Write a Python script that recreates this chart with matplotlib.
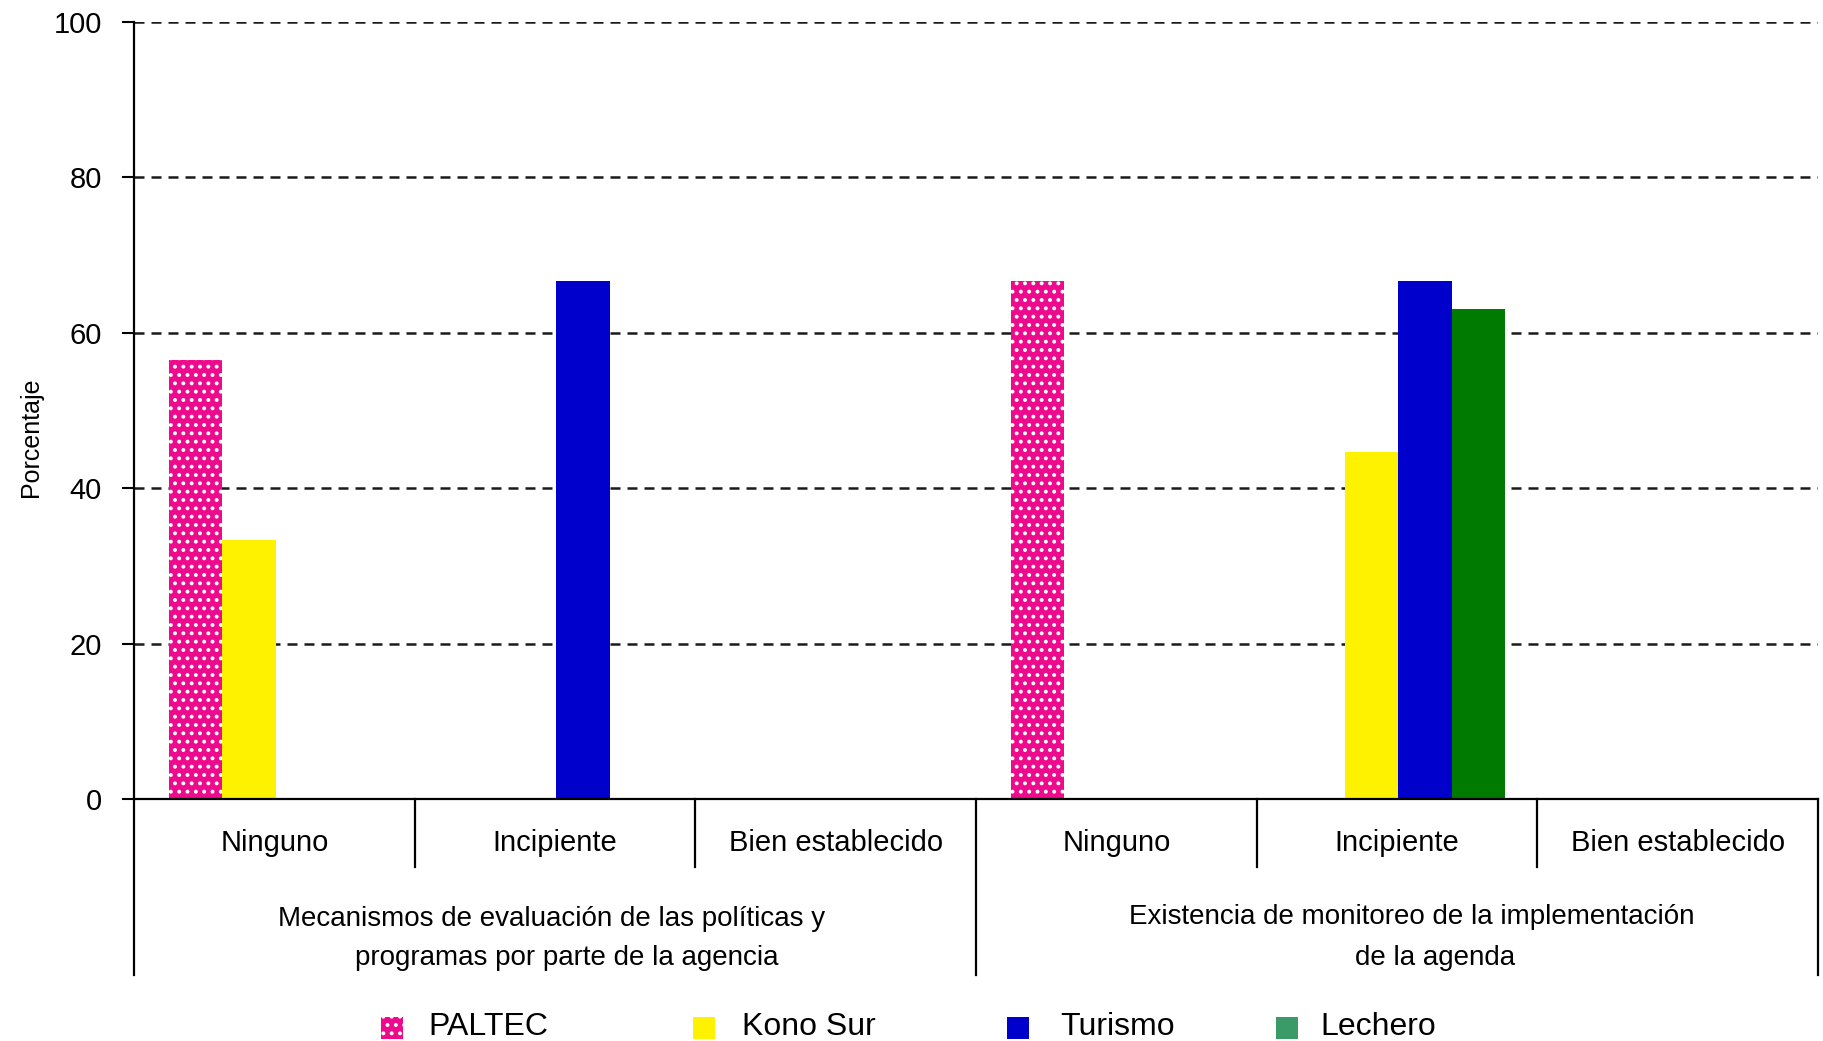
import matplotlib
matplotlib.use('Agg')
import numpy as np
import matplotlib.pyplot as plt
from matplotlib.patches import Rectangle

plt.rcParams['font.family'] = ['Liberation Sans', 'DejaVu Sans']
plt.rcParams['hatch.linewidth'] = 1.6

# Data (percent)
CATEGORIES = ['Ninguno', 'Incipiente', 'Bien establecido',
              'Ninguno', 'Incipiente', 'Bien establecido']
GROUP_1 = ['Mecanismos de evaluación de las políticas y',
           'programas por parte de la agencia']
GROUP_2 = ['Existencia de monitoreo de la implementación',
           'de la agenda']
SERIES = ['PALTEC', 'Kono Sur', 'Turismo', 'Lechero']
paltec = [56.5, 0, 0, 66.7, 0, 0]
kono_sur = [33.3, 0, 0, 0, 44.6, 0]
turismo = [0, 66.7, 0, 0, 66.7, 0]
lechero = [0, 0, 0, 0, 63.0, 0]

# styling
PINK = '#EE0A8C'
YELLOW = '#FFF200'
BLUE = '#0000CC'
GREEN = '#007A00'
LEG_GREEN = '#3A9A68'
BAR_W = 0.19

fig = plt.figure(figsize=(18.24, 10.41), dpi=100)
ax = fig.add_axes([0.0735, 0.2325, 0.9232, 0.7464])

x = np.arange(len(CATEGORIES))
series_vals = [paltec, kono_sur, turismo, lechero]
bar_styles = [
    dict(color=PINK, edgecolor='white', hatch='..', linewidth=0),
    dict(color=YELLOW, linewidth=0),
    dict(color=BLUE, linewidth=0),
    dict(color=GREEN, linewidth=0),
]
for i, (vals, st) in enumerate(zip(series_vals, bar_styles)):
    offset = (i - 1.5) * BAR_W + 0.005
    ax.bar(x + offset, vals, width=BAR_W, zorder=2, **st)

ax.set_xlim(-0.5, 5.5)
ax.set_ylim(0, 100)
ax.set_yticks(np.arange(0, 101, 20))
ax.yaxis.grid(True, linestyle=(0, (4, 2.8)), color='#1a1a1a', linewidth=1.8)
ax.set_axisbelow(True)
ax.tick_params(axis='y', direction='out', length=9, width=1.5,
               labelsize=21, pad=14)
ax.tick_params(axis='x', length=0, labelbottom=False)
for side in ['top', 'right']:
    ax.spines[side].set_visible(False)
for side in ['left', 'bottom']:
    ax.spines[side].set_linewidth(1.6)
ax.set_ylabel('Porcentaje', fontsize=18)
ax.yaxis.set_label_coords(-0.054, 0.466)

# hierarchical x axis: category labels, separators, group labels
trans = ax.get_xaxis_transform()
for xi, lab in zip(x, CATEGORIES):
    ax.text(xi, -0.057, lab, transform=trans, ha='center', va='center',
            fontsize=21)
for xs in [0.5, 1.5, 3.5, 4.5]:
    ax.plot([xs, xs], [0, -0.088], transform=trans, color='black',
            linewidth=1.6, clip_on=False)
for xs in [-0.5, 2.5, 5.5]:
    ax.plot([xs, xs], [0, -0.226], transform=trans, color='black',
            linewidth=1.6, clip_on=False)

ax.text(0.986, -0.155, GROUP_1[0], transform=trans, ha='center',
        va='center', fontsize=20)
ax.text(1.041, -0.205, GROUP_1[1], transform=trans, ha='center',
        va='center', fontsize=20)
ax.text(4.051, -0.152, GROUP_2[0], transform=trans, ha='center',
        va='center', fontsize=20)
ax.text(4.136, -0.205, GROUP_2[1], transform=trans, ha='center',
        va='center', fontsize=20)

# legend drawn by hand along the bottom edge (cut off like the original)
W, H = 1824, 1041
leg_patch_x = [381, 693, 1007, 1276]
leg_text_x = [428, 742, 1060, 1320]
leg_colors = [PINK, YELLOW, BLUE, LEG_GREEN]
for name, px, tx, c in zip(SERIES, leg_patch_x, leg_text_x, leg_colors):
    kw = dict(facecolor=c, linewidth=0)
    if name == 'PALTEC':
        kw.update(edgecolor='white', hatch='..')
    fig.add_artist(Rectangle((px / W, 2 / H), 22 / W, 22 / H,
                             transform=fig.transFigure, **kw))
    fig.text(tx / W, 6 / H, name, fontsize=23, ha='left', va='baseline')

fig.savefig('out.png', dpi=100)
